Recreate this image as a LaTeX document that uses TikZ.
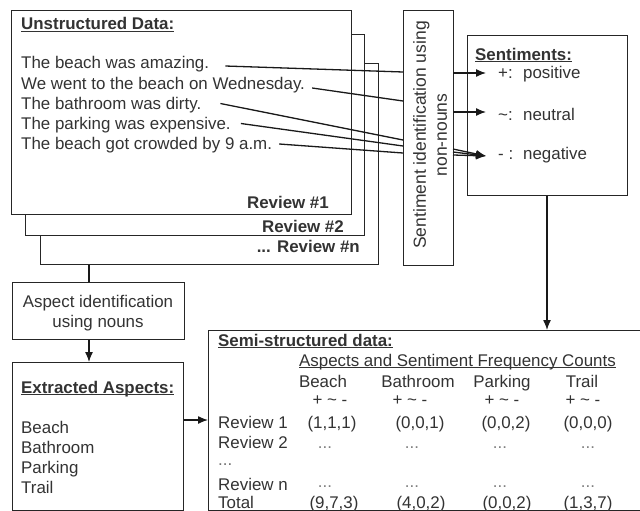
\documentclass[tikz,border=0pt]{standalone}
\usepackage{fontspec}
\setmainfont{Liberation Sans}
\newsavebox{\ulbox}
\newcommand{\myul}[1]{\sbox{\ulbox}{#1}\rlap{\rule[-2.4pt]{\wd\ulbox}{1.1pt}}\usebox{\ulbox}}
\usetikzlibrary{arrows.meta,calc}
\begin{document}
\begin{tikzpicture}[x=1pt,y=-1pt,
 box/.style={draw=black!85,line width=1.4pt,fill=white,inner sep=0pt,rectangle,anchor=north west},
 txt/.style={inner sep=0pt,anchor=base west,text=black!80,font=\fontsize{16.9}{20}\selectfont},
 lbl/.style={txt,font=\fontsize{16.9}{20}\selectfont\bfseries},
 ctr/.style={txt,anchor=base},
 dotsty/.style={ctr,text=black!50},
 conn/.style={draw=black!90,line width=1.3pt},
 arr/.style={conn,-{Latex[length=10pt,width=8pt]}}
]
\useasboundingbox (0,0) rectangle (640,511);

% review stack
\node[box,minimum width=338pt,minimum height=201pt] (r3) at (40,63) {};
\node[box,minimum width=339pt,minimum height=201pt] (r2) at (25,34) {};
\node[box,minimum width=340pt,minimum height=204pt] (r1) at (11,10) {};
\node[lbl,anchor=base east] (rl1) at (329,208) {Review \#1};
\node[lbl,anchor=base east] (rl2) at (344,232) {Review \#2};
\node[lbl,anchor=base east] (rln) at (360,252) {... Review \#n};

\node[lbl] (ut) at (21,30) {\myul{Unstructured Data:}};
\node[txt] (s1) at (21,69) {The beach was amazing.};
\node[txt] (s2) at (21,89) {We went to the beach on Wednesday.};
\node[txt] (s3) at (21,109) {The bathroom was dirty.};
\node[txt] (s4) at (21,129) {The parking was expensive.};
\node[txt] (s5) at (21,149) {The beach got crowded by 9 a.m.};

% vertical box
\node[box,minimum width=50pt,minimum height=255pt] (sidbox) at (403,10) {};
\node[txt,anchor=center,rotate=90,align=center,font=\fontsize{17.5}{21}\selectfont] (vtxt) at (430,135) {Sentiment identification using\\non-nouns};
\coordinate (v1) at (403,72);
\coordinate (v2) at (403,101);
\coordinate (v3) at (403,140);
\coordinate (v4) at (403,146);
\coordinate (v5) at (403,153);
\coordinate (w1) at (453,73);
\coordinate (w2) at (453,112);
\coordinate (w3) at (453,149);
\coordinate (w4) at (453,152);
\coordinate (w5) at (453,155);

% sentiments
\node[box,minimum width=160pt,minimum height=160pt] (sentbox) at (467,35) {};
\node[lbl] (st) at (475,60) {\myul{Sentiments:}};
\node[txt] (sp1) at (498,78) {+:};
\node[txt] (sp2) at (523,78) {positive};
\node[txt] (sn1) at (498,120) {\textasciitilde:};
\node[txt] (sn2) at (523,120) {neutral};
\node[txt] (sg1) at (498,159) {- :};
\node[txt] (sg2) at (523,159) {negative};
\coordinate (q1) at (486,73);
\coordinate (q2) at (486,112);
\coordinate (q3) at (486,156);

% aspect identification
\node[box,minimum width=172pt,minimum height=57pt] (aspbox) at (12,282) {};
\node[ctr] (a1) at (98,307) {Aspect identification};
\node[ctr] (a2) at (98,327) {using nouns};

% extracted aspects
\node[box,minimum width=171pt,minimum height=148pt] (extbox) at (12,362) {};
\node[lbl] (et) at (21,393) {\myul{Extracted Aspects:}};
\node[txt] (e1t) at (21,433) {Beach};
\node[txt] (e2t) at (21,453) {Bathroom};
\node[txt] (e3t) at (21,473) {Parking};
\node[txt] (e4t) at (21,493) {Trail};

% semi-structured
\node[box,minimum width=440pt,minimum height=179.5pt] (semibox) at (208,330) {};
\node[lbl] (sst) at (218,346) {\myul{Semi-structured data:}};
\node[txt] (asc) at (299,366) {\myul{Aspects and Sentiment Frequency Counts}};
\node[ctr] (h1) at (323,387) {Beach};
\node[ctr] (h2) at (418,387) {Bathroom};
\node[ctr] (h3) at (502,387) {Parking};
\node[ctr] (h4) at (582,387) {Trail};
\node[ctr] (g1) at (330,405) {+ \textasciitilde{} -};
\node[ctr] (g2) at (410,405) {+ \textasciitilde{} -};
\node[ctr] (g3) at (502,405) {+ \textasciitilde{} -};
\node[ctr] (g4) at (583,405) {+ \textasciitilde{} -};
\node[txt] (rw1) at (218,428) {Review 1};
\node[txt] (rw2) at (218,448) {Review 2};
\node[txt,text=black!55] (rwd) at (218,465) {...};
\node[txt] (rwn) at (218,490) {Review n};
\node[txt] (rwt) at (218,508) {Total};
\node[ctr] (v11) at (332,428) {(1,1,1)};
\node[ctr] (v12) at (420,428) {(0,0,1)};
\node[ctr] (v13) at (506,428) {(0,0,2)};
\node[ctr] (v14) at (588,428) {(0,0,0)};
\node[dotsty] (d21) at (325,448) {...};
\node[dotsty] (d22) at (412,448) {...};
\node[dotsty] (d23) at (500,448) {...};
\node[dotsty] (d24) at (588,448) {...};
\node[dotsty] (dn1) at (325,487) {...};
\node[dotsty] (dn2) at (412,487) {...};
\node[dotsty] (dn3) at (500,487) {...};
\node[dotsty] (dn4) at (588,487) {...};
\node[ctr] (t1) at (334,508) {(9,7,3)};
\node[ctr] (t2) at (421,508) {(4,0,2)};
\node[ctr] (t3) at (507,508) {(0,0,2)};
\node[ctr] (t4) at (588,508) {(1,3,7)};

% connectors sentences -> vertical box
\draw[conn] ($(s1.base east)+(16,-3)$) -- (v1);
\draw[conn] ($(s2.base east)+(7,-1)$) -- (v2);
\draw[conn] ($(s3.base east)+(19,-5.5)$) -- (v3);
\draw[conn] ($(s4.base east)+(10,-5.5)$) -- (v4);
\draw[conn] ($(s5.base east)+(7,-5)$) -- (v5);

% vertical box -> sentiments
\draw[arr] (w1) -- (q1);
\draw[arr] (w2) -- (q2);
\draw[arr] (w3) -- (q3);
\draw[arr] (w4) -- (q3);
\draw[arr] (w5) -- (q3);

% review stack -> aspect identification -> extracted
\coordinate (k) at ($(aspbox.north west)+(77,0)$);
\draw[conn] (k) -- (k |- r3.south);
\draw[arr] ($(aspbox.south west)+(77,0)$) -- ($(extbox.north west)+(77,0)$);

% extracted -> semi
\coordinate (ea) at ($(extbox.north east)+(0,58)$);
\draw[arr] (ea) -- (ea -| semibox.west);

% sentiments -> semi
\coordinate (m1) at ($(sentbox.south west)+(80,0)$);
\draw[arr] (m1) -- (m1 |- semibox.north);
\end{tikzpicture}
\end{document}
